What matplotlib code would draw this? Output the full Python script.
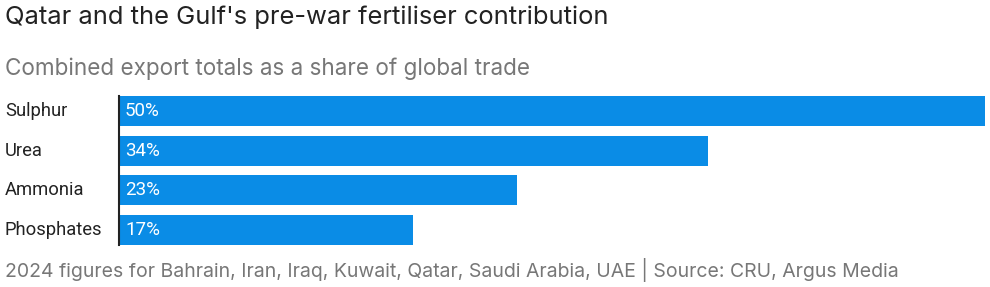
import matplotlib
matplotlib.use("Agg")
import matplotlib.pyplot as plt

categories = ["Sulphur", "Urea", "Ammonia", "Phosphates"]
shares = [50, 34, 23, 17]
value_labels = ["50%", "34%", "23%", "17%"]

title = "Qatar and the Gulf's pre-war fertiliser contribution"
subtitle = "Combined export totals as a share of global trade"
footnote = "2024 figures for Bahrain, Iran, Iraq, Kuwait, Qatar, Saudi Arabia, UAE | Source: CRU, Argus Media"

bar_color = "#0a8ce6"
bar_h = 0.76

fig = plt.figure(figsize=(9.9, 2.87), dpi=100)
ax = fig.add_axes([119 / 990, 1 - 250 / 287, 866 / 990, 159 / 287])

y = list(range(len(categories)))
ax.barh(y, shares, height=bar_h, color=bar_color)
ax.set_xlim(0, 50)
ax.set_ylim(len(categories) - 0.5, -0.5)

for yi, lab in zip(y, value_labels):
    ax.text(0.35, yi, lab, color="white", va="center", ha="left",
            fontsize=13.5, family="Roboto")
for yi, cat in zip(y, categories):
    fig.text(5 / 990, 1 - (111 + yi * 39.7) / 287, cat, color="#222222",
             va="center", ha="left", fontsize=13.2, family="Roboto")

ax.set_xticks([])
ax.set_yticks([])
for s in ["top", "right", "bottom"]:
    ax.spines[s].set_visible(False)
ax.spines["left"].set_color("#222222")
ax.spines["left"].set_linewidth(1.5)
ax.spines["left"].set_bounds(-bar_h / 2, len(categories) - 1 + bar_h / 2)

fig.text(5 / 990, 1 - 17 / 287, title, fontsize=18.4, color="#222222",
         va="center", ha="left", family="Inter")
fig.text(5 / 990, 1 - 69 / 287, subtitle, fontsize=16.2, color="#777777",
         va="center", ha="left", family="Inter")
fig.text(5 / 990, 1 - 270 / 287, footnote, fontsize=14.0, color="#777777",
         va="center", ha="left", family="Inter")

fig.savefig("out.png", dpi=100)
